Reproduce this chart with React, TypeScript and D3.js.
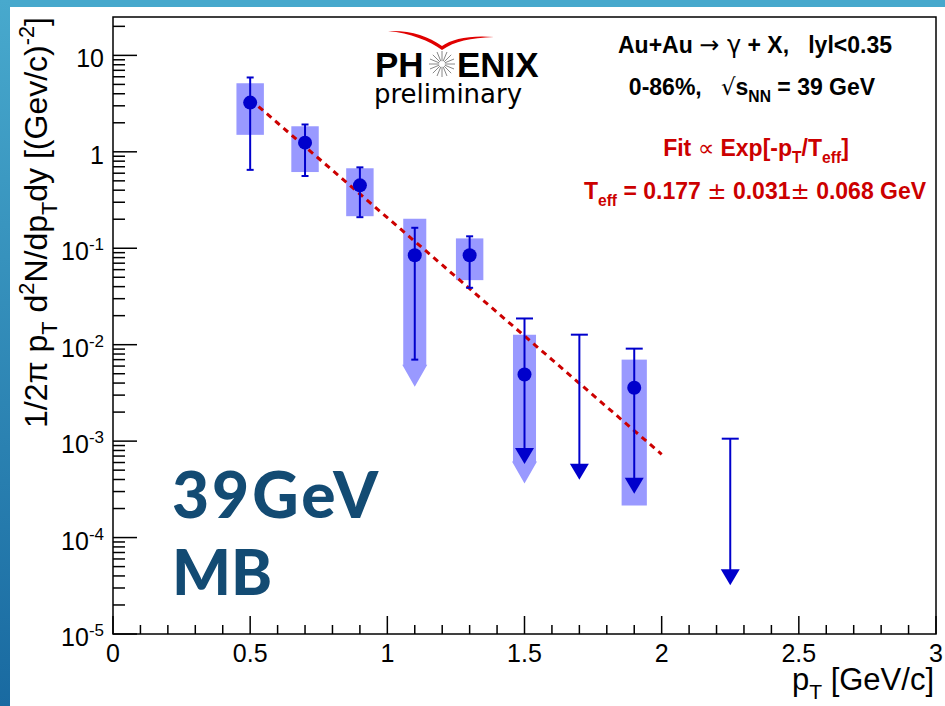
import React from 'react';
import * as d3 from 'd3';

const W = 945;
const H = 706;

// ---- data ----
const pT = [0.5, 0.7, 0.9, 1.1, 1.3, 1.5, 1.7, 1.9, 2.25];
const yieldVal: (number | null)[] = [3.24, 1.245, 0.449, 0.0847, 0.0847, 0.0049, null, 0.00358, null];
const statHi = [5.9, 1.92, 0.69, 0.163, 0.133, 0.0187, 0.0127, 0.0091, 0.00106];
const statLo: (number | null)[] = [0.65, 0.561, 0.21, 0.007, 0.0389, null, null, null, null];
const limitTip: (number | null)[] = [null, null, null, null, null, 5.8e-4, 3.97e-4, 2.84e-4, 3.2e-5];
const sysHi: (number | null)[] = [5.14, 1.84, 0.675, 0.202, 0.1265, 0.0127, null, 0.007, null];
const sysLo: (number | null)[] = [1.5, 0.617, 0.215, 0.0062, 0.0467, 6.15e-4, null, 2.15e-4, null];
const sysIsLimit = [false, false, false, true, false, true, false, false, false];
const sysHalfW = [0.05, 0.05, 0.05, 0.042, 0.05, 0.042, 0, 0.046, 0];

const fitT = 0.177;
const fitNormAt05 = 3.5;
const fitRange = [0.5, 2.0];

const xTicks = [0, 0.5, 1, 1.5, 2, 2.5, 3];
const xTickLabels = ['0', '0.5', '1', '1.5', '2', '2.5', '3'];
const yExps = [-5, -4, -3, -2, -1, 0, 1];

// ---- layout ----
const L = 113, R = 936, T = 17, B = 634;
const FONT = '"Liberation Sans", Arial, Helvetica, sans-serif';
const PRE = { whiteSpace: 'pre' as const };

type Part = [string, 'n' | 'sub' | 'sup', any?];

function Rich({ x, y, size, parts, anchor = 'start', fill = '#000', weight = 'normal', transform }: any) {
  let cur = 0;
  return (
    <text x={x} y={y} fontSize={size} fontFamily={FONT} fontWeight={weight} fill={fill} textAnchor={anchor} transform={transform} style={PRE}>
      {(parts as Part[]).map(([t, k, extra], i) => {
        const target = k === 'sub' ? 0.3 * size : k === 'sup' ? -0.42 * size : 0;
        const dy = target - cur;
        cur = target;
        return (
          <tspan key={i} dy={dy} fontSize={k === 'n' ? size : size * 0.68} {...(extra || {})}>
            {t}
          </tspan>
        );
      })}
    </text>
  );
}

export default function App() {
  const x = d3.scaleLinear().domain([0, 3]).range([L, R]);
  const y = d3.scaleLog().domain([1e-5, 25]).range([B, T]);

  const xMinor = d3.range(0, 3.0001, 0.1).filter((v) => Math.abs(v * 2 - Math.round(v * 2)) > 1e-6);
  const yMinor: number[] = [];
  for (let e = -5; e <= 1; e++) for (let k = 2; k <= 9; k++) {
    const v = k * Math.pow(10, e);
    if (v < 25) yMinor.push(v);
  }

  const fitA = fitNormAt05 * Math.exp(0.5 / fitT);
  const fitPts = d3.range(fitRange[0], fitRange[1] + 1e-9, 0.05).map((p) => [p, fitA * Math.exp(-p / fitT)] as [number, number]);
  const fitLine = d3.line<[number, number]>().x((d) => x(d[0])).y((d) => y(d[1]));

  const blue = '#0000cc';
  const boxBlue = '#9999ff';
  const red = '#cc0000';
  const sym = { fontFamily: '"DejaVu Sans", sans-serif', fontWeight: 'normal' };

  return (
    <svg width={W} height={H} style={{ position: 'absolute', left: 0, top: 0 }} xmlns="http://www.w3.org/2000/svg">
      <defs>
        <linearGradient id="lg" x1="0" y1="0" x2="0" y2="1">
          <stop offset="0" stopColor="#48a9cd" />
          <stop offset="1" stopColor="#196aa1" />
        </linearGradient>
      </defs>
      <rect x={0} y={0} width={W} height={H} fill="#fff" />
      <rect x={0} y={0} width={W} height={7} fill="#46a8cc" />
      <rect x={0} y={0} width={10} height={H} fill="url(#lg)" />

      {/* systematic boxes */}
      {pT.map((p, i) => {
        if (sysHi[i] == null || sysLo[i] == null) return null;
        const x0 = x(p - sysHalfW[i]);
        const x1 = x(p + sysHalfW[i]);
        const yt = y(sysHi[i] as number);
        const yb = y(sysLo[i] as number);
        if (!sysIsLimit[i]) {
          return <rect key={'s' + i} x={x0} y={yt} width={x1 - x0} height={yb - yt} fill={boxBlue} />;
        }
        const cx = x(p);
        const hw = (x1 - x0) / 2 + 1;
        return (
          <path
            key={'s' + i}
            d={`M${x0},${yt}H${x1}V${yb}H${cx + hw}L${cx},${yb + 22}L${cx - hw},${yb}H${x0}Z`}
            fill={boxBlue}
          />
        );
      })}

      {/* fit */}
      <path d={fitLine(fitPts) || ''} fill="none" stroke={red} strokeWidth={3} strokeDasharray="6,5" />

      {/* stat errors */}
      {pT.map((p, i) => {
        const cx = x(p);
        const top = y(statHi[i]);
        const lo = statLo[i];
        const capW = lo == null ? 17 : 7;
        const els: any[] = [];
        els.push(<line key="c" x1={cx - capW / 2} x2={cx + capW / 2} y1={top} y2={top} stroke={blue} strokeWidth={2} />);
        if (lo != null) {
          const yb = y(lo);
          els.push(<line key="l" x1={cx} x2={cx} y1={top} y2={yb} stroke={blue} strokeWidth={2} />);
          els.push(<line key="b" x1={cx - capW / 2} x2={cx + capW / 2} y1={yb} y2={yb} stroke={blue} strokeWidth={2} />);
        } else if (limitTip[i] != null) {
          const tip = y(limitTip[i] as number);
          els.push(<line key="l" x1={cx} x2={cx} y1={top} y2={tip - 15} stroke={blue} strokeWidth={2} />);
          els.push(<path key="a" d={`M${cx - 9.5},${tip - 16}H${cx + 9.5}L${cx},${tip}Z`} fill={blue} />);
        }
        return <g key={'e' + i}>{els}</g>;
      })}

      {/* markers */}
      {pT.map((p, i) =>
        yieldVal[i] == null ? null : <circle key={'m' + i} cx={x(p)} cy={y(yieldVal[i] as number)} r={7} fill={blue} />
      )}

      {/* frame */}
      <rect x={L} y={T} width={R - L} height={B - T} fill="none" stroke="#000" strokeWidth={1.5} />

      {/* x ticks */}
      {xTicks.map((v) => (
        <line key={'xt' + v} x1={x(v)} x2={x(v)} y1={B} y2={B - 18} stroke="#000" strokeWidth={1.5} />
      ))}
      {xMinor.map((v) => (
        <line key={'xm' + v} x1={x(v)} x2={x(v)} y1={B} y2={B - 9} stroke="#000" strokeWidth={1.5} />
      ))}
      {xTicks.map((v, i) => (
        <text key={'xl' + v} x={x(v)} y={662} fontSize={25} fontFamily={FONT} textAnchor="middle">
          {xTickLabels[i]}
        </text>
      ))}

      {/* y ticks */}
      {yExps.map((e) => (
        <line key={'yt' + e} x1={L} x2={L + 24} y1={y(Math.pow(10, e))} y2={y(Math.pow(10, e))} stroke="#000" strokeWidth={1.5} />
      ))}
      {yMinor.map((v, i) => (
        <line key={'ym' + i} x1={L} x2={L + 12} y1={y(v)} y2={y(v)} stroke="#000" strokeWidth={1.5} />
      ))}
      {yExps.map((e) => {
        const yy = y(Math.pow(10, e)) + 12;
        if (e === 0 || e === 1) {
          return (
            <text key={'yl' + e} x={104} y={yy} fontSize={25} fontFamily={FONT} textAnchor="end">
              {e === 0 ? '1' : '10'}
            </text>
          );
        }
        return (
          <text key={'yl' + e} x={104} y={yy} fontSize={25} fontFamily={FONT} textAnchor="end">
            10
            <tspan dy={-10} fontSize={17}>{String(e)}</tspan>
          </text>
        );
      })}

      {/* axis titles */}
      <Rich
        x={0}
        y={0}
        size={32}
        anchor="end"
        transform="translate(47,17) rotate(-90)"
        parts={[
          ['1/2π p', 'n'],
          ['T', 'sub'],
          [' d', 'n'],
          ['2', 'sup'],
          ['N/dp', 'n'],
          ['T', 'sub'],
          ['dy [(Gev/c)', 'n'],
          ['-2', 'sup'],
          [']', 'n'],
        ]}
      />
      <Rich
        x={934}
        y={690}
        size={31}
        anchor="end"
        parts={[
          ['p', 'n'],
          ['T', 'sub'],
          [' [GeV/c]', 'n'],
        ]}
      />

      {/* header text */}
      <text x={755} y={53} fontSize={23} fontFamily={FONT} fontWeight="bold" textAnchor="middle" style={PRE}>
        Au+Au <tspan {...sym} fontSize={24}>→ γ</tspan> + X,   lyl&lt;0.35
      </text>
      <Rich
        x={752}
        y={95}
        size={23}
        weight="bold"
        anchor="middle"
        parts={[
          ['0-86%,   ', 'n'],
          ['√', 'n', sym],
          ['s', 'n'],
          ['NN', 'sub'],
          [' = 39 GeV', 'n'],
        ]}
      />
      <Rich
        x={756}
        y={156}
        size={23}
        weight="bold"
        anchor="middle"
        fill={red}
        parts={[
          ['Fit ', 'n'],
          ['∝', 'n', sym],
          [' Exp[-p', 'n'],
          ['T', 'sub'],
          ['/T', 'n'],
          ['eff', 'sub'],
          [']', 'n'],
        ]}
      />
      <Rich
        x={755}
        y={199}
        size={23}
        weight="bold"
        anchor="middle"
        fill={red}
        parts={[
          ['T', 'n'],
          ['eff', 'sub'],
          [' = 0.177 ', 'n'],
          ['±', 'n', sym],
          [' 0.031', 'n'],
          ['±', 'n', sym],
          [' 0.068 GeV', 'n'],
        ]}
      />

      {/* PHENIX logo */}
      <path
        d="M388,31 C410,30 428,36 442,46 C452,39 470,35 494,37 C470,38 455,41 442,50 C430,41 410,33 388,31 Z"
        fill="#e00000"
      />
      <text x={375} y={77} fontSize={35} fontFamily={FONT} fontWeight="bold">PH</text>
      <text x={457} y={77} fontSize={35} fontFamily={FONT} fontWeight="bold">ENIX</text>
      {d3.range(16).map((k) => {
        const a = (k * Math.PI * 2) / 16;
        return (
          <line
            key={'st' + k}
            x1={442 + 3 * Math.cos(a)}
            y1={64 + 3 * Math.sin(a)}
            x2={442 + 13 * Math.cos(a)}
            y2={64 + 13 * Math.sin(a)}
            stroke="#888"
            strokeWidth={1}
          />
        );
      })}
      <text x={374} y={103} fontSize={26} fontFamily='"DejaVu Sans", sans-serif'>preliminary</text>

      {/* big label */}
      <text x={172} y={518} fontSize={64} fontFamily='Lato, "Open Sans", sans-serif' fontWeight={900} fill="#134b73" letterSpacing={3}>
        39GeV
      </text>
      <text x={172} y={595} fontSize={62} fontFamily='Lato, "Open Sans", sans-serif' fontWeight={900} fill="#134b73">
        MB
      </text>
    </svg>
  );
}
